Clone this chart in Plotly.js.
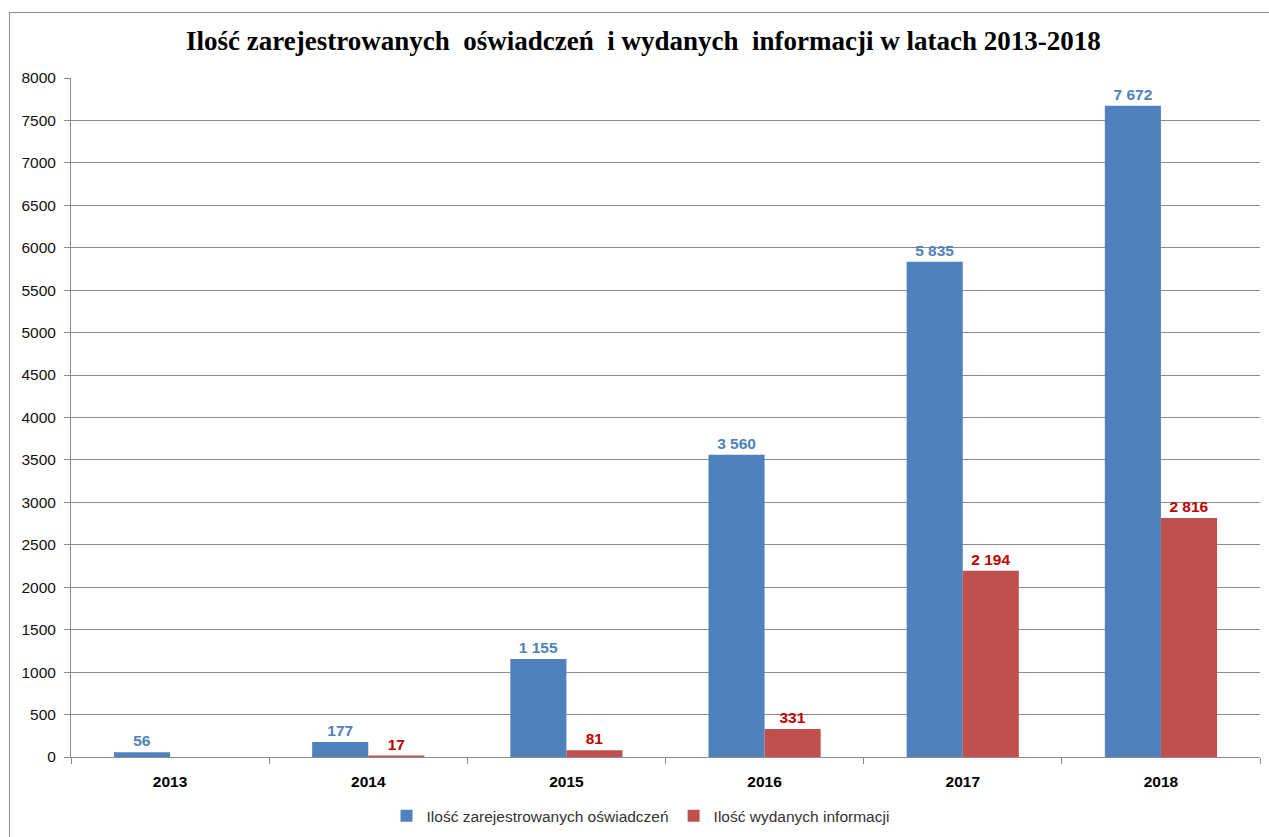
<!DOCTYPE html>
<html>
<head>
<meta charset="utf-8">
<script src="https://cdn.plot.ly/plotly-3.0.1.min.js"></script>
<style>
html,body{margin:0;padding:0;background:#fff;overflow:hidden;}
#frame{position:absolute;left:9px;top:12px;width:1300px;height:900px;border:1.5px solid #8a8a8a;box-sizing:border-box;}
#chart{position:absolute;left:0;top:0;width:1269px;height:837px;}
</style>
</head>
<body>
<div id="frame"></div>
<div id="chart"></div>
<script>
const years = ['2013','2014','2015','2016','2017','2018'];
const oswiadczenia = [56, 177, 1155, 3560, 5835, 7672];
const informacje = [null, 17, 81, 331, 2194, 2816];
const seriesNames = ['Ilość zarejestrowanych oświadczeń', 'Ilość wydanych informacji'];
const yTicks = [0,500,1000,1500,2000,2500,3000,3500,4000,4500,5000,5500,6000,6500,7000,7500,8000];

const labelFont = {family: 'Liberation Sans, Arial, sans-serif', size: 15.5};

const traces = [
  {
    type: 'bar', x: years, y: oswiadczenia, name: seriesNames[0],
    marker: {color: '#4F81BD'},
    texttemplate: '<b>%{y:,}</b>', textposition: 'outside',
    textfont: Object.assign({color: '#4F81BD'}, labelFont),
    cliponaxis: false, hoverinfo: 'x+y'
  },
  {
    type: 'bar', x: years, y: informacje, name: seriesNames[1],
    marker: {color: '#C0504D'},
    texttemplate: '<b>%{y:,}</b>', textposition: 'outside',
    textfont: Object.assign({color: '#C00000'}, labelFont),
    cliponaxis: false, hoverinfo: 'x+y'
  }
];

const layout = {
  width: 1269, height: 837,
  paper_bgcolor: 'rgba(0,0,0,0)', plot_bgcolor: 'rgba(0,0,0,0)',
  margin: {l: 71, r: 9, t: 78, b: 80, autoexpand: false},
  separators: ', ',
  barmode: 'group', bargap: 0.434, bargroupgap: 0,
  title: {
    text: '<b>Ilość zarejestrowanych  oświadczeń  i wydanych  informacji w latach 2013-2018</b>',
    font: {family: 'Liberation Serif, Times New Roman, serif', size: 27, color: '#000'},
    x: 0.507, xanchor: 'center', y: 0.951, yanchor: 'middle'
  },
  xaxis: {
    type: 'category', showgrid: false, showline: true, linecolor: '#8c8c8c', linewidth: 1,
    ticks: 'outside', tickson: 'boundaries', ticklen: 6, tickcolor: '#8c8c8c',
    tickfont: {family: 'Liberation Sans, Arial, sans-serif', size: 15.5, color: '#000', weight: 'bold'},
    ticklabelstandoff: 10
  },
  yaxis: {
    range: [0, 8000], tickvals: yTicks, ticktext: yTicks.map(String),
    showgrid: true, gridcolor: '#8c8c8c', gridwidth: 1,
    showline: true, linecolor: '#8c8c8c', linewidth: 1,
    ticks: 'outside', ticklen: 6, tickcolor: '#8c8c8c',
    tickfont: {family: 'Liberation Sans, Arial, sans-serif', size: 15.5, color: '#111'},
    ticklabelstandoff: 5,
    zeroline: false
  },
  showlegend: true,
  legend: {
    orientation: 'h', x: 0.479, xanchor: 'center', y: -0.087, yanchor: 'middle',
    font: {family: 'Liberation Sans, Arial, sans-serif', size: 15.5, color: '#333'},
    itemwidth: 30, traceorder: 'normal'
  }
};

Plotly.newPlot('chart', traces, layout, {displayModeBar: false, staticPlot: true});
</script>
</body>
</html>
